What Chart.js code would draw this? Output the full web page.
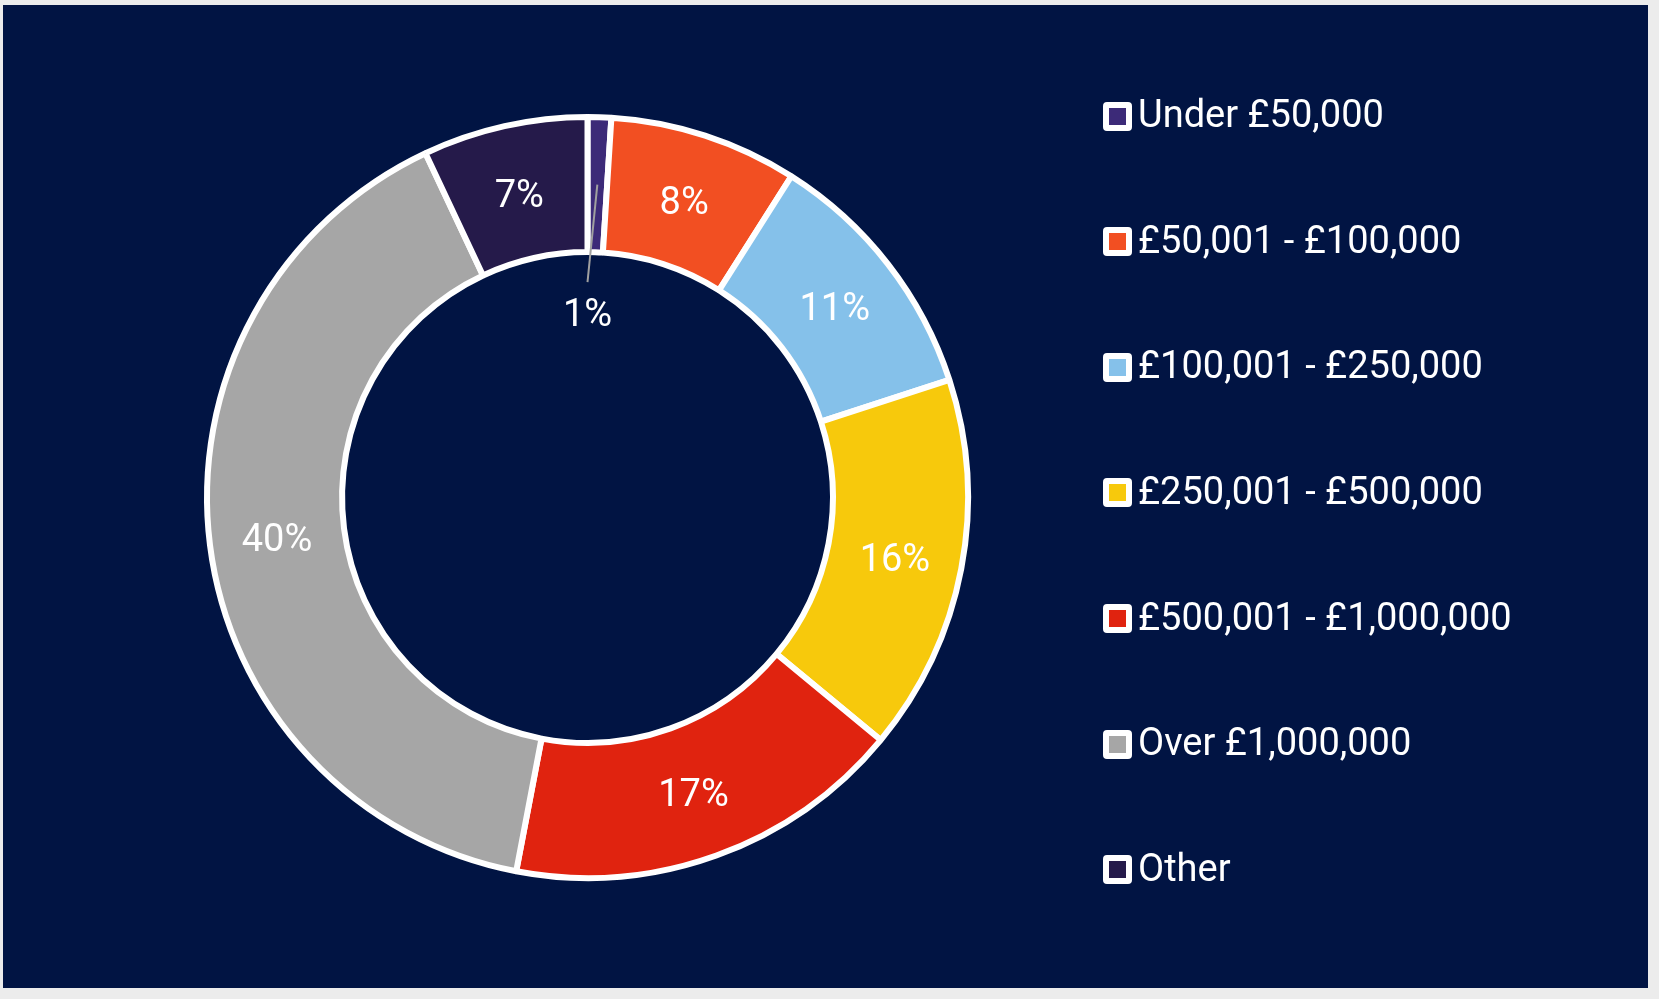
<!DOCTYPE html>
<html>
<head>
<meta charset="utf-8">
<script src="https://cdn.jsdelivr.net/npm/chart.js@4.4.0/dist/chart.umd.min.js"></script>
<style>
  html, body { margin: 0; padding: 0; background: #ececec; }
  #panel { position: absolute; left: 3px; top: 5px; width: 1645px; height: 983px; background: #011443; overflow: hidden; }
  #chartBox { position: absolute; left: 0; top: 0; width: 1645px; height: 983px; }
  #legend { position: absolute; left: 1100px; top: 92px; margin: 0; padding: 0; list-style: none; }
  #legend li { display: flex; align-items: center; height: 38px; margin-bottom: 87.65px; }
  #legend .sw { box-sizing: border-box; width: 29px; height: 29px; border: 6.5px solid #fff; border-radius: 4px; }
  #legend .txt { margin-left: 6px; font: 38px Roboto, sans-serif; color: #fff; line-height: 38px; position: relative; top: -2px; white-space: nowrap; }
</style>
</head>
<body>
<div id="panel">
  <div id="chartBox"><canvas id="bandChart"></canvas></div>
  <ul id="legend"></ul>
</div>
<script>
// contract value bands
const bands = ["Under £50,000", "£50,001 - £100,000", "£100,001 - £250,000", "£250,001 - £500,000", "£500,001 - £1,000,000", "Over £1,000,000", "Other"];
const shares = [1, 8, 11, 16, 17, 40, 7]; // percent
const bandColors = ["#3c2a78", "#f24f22", "#85c1ea", "#f7c90c", "#e0230f", "#a6a6a6", "#251a4a"];

Chart.defaults.font.family = "Roboto";

// percentage labels, small slices get a leader line into the hole
const sliceLabels = {
  id: "sliceLabels",
  afterDatasetsDraw(chart) {
    const ctx = chart.ctx;
    const meta = chart.getDatasetMeta(0);
    ctx.save();
    ctx.font = "38px Roboto";
    ctx.fillStyle = "#ffffff";
    ctx.textAlign = "center";
    ctx.textBaseline = "middle";
    meta.data.forEach((arc, i) => {
      const text = shares[i] + "%";
      const pos = arc.tooltipPosition();
      if (shares[i] < 3) {
        const { x, y, innerRadius } = arc.getProps(["x", "y", "innerRadius"], true);
        ctx.strokeStyle = "#a0a0a0";
        ctx.lineWidth = 2;
        ctx.beginPath();
        ctx.moveTo(pos.x, pos.y);
        ctx.lineTo(x, y - innerRadius + 30);
        ctx.stroke();
        ctx.fillText(text, x, y - innerRadius + 64);
      } else {
        ctx.fillText(text, pos.x, pos.y + 5);
      }
    });
    ctx.restore();
  }
};

const bandCtx = document.getElementById("bandChart").getContext("2d");
const bandChart = new Chart(bandCtx, {
  type: "doughnut",
  data: {
    labels: bands,
    datasets: [
      {
        data: shares,
        backgroundColor: bandColors,
        borderColor: "#ffffff",
        borderWidth: 6
      }
    ]
  },
  options: {
    responsive: true,
    maintainAspectRatio: false,
    animation: false,
    events: [],
    cutout: "64.5%",
    layout: {
      padding: { left: 201, right: 677, top: 109, bottom: 107 }
    },
    plugins: {
      legend: { display: false },
      tooltip: { enabled: false }
    }
  },
  plugins: [sliceLabels]
});

// legend built from the chart's own labels and colours
const legendEl = document.getElementById("legend");
bandChart.data.labels.forEach((label, i) => {
  const li = document.createElement("li");
  const sw = document.createElement("span");
  sw.className = "sw";
  sw.style.background = bandChart.data.datasets[0].backgroundColor[i];
  const txt = document.createElement("span");
  txt.className = "txt";
  txt.textContent = label;
  li.appendChild(sw);
  li.appendChild(txt);
  legendEl.appendChild(li);
});
</script>
</body>
</html>
